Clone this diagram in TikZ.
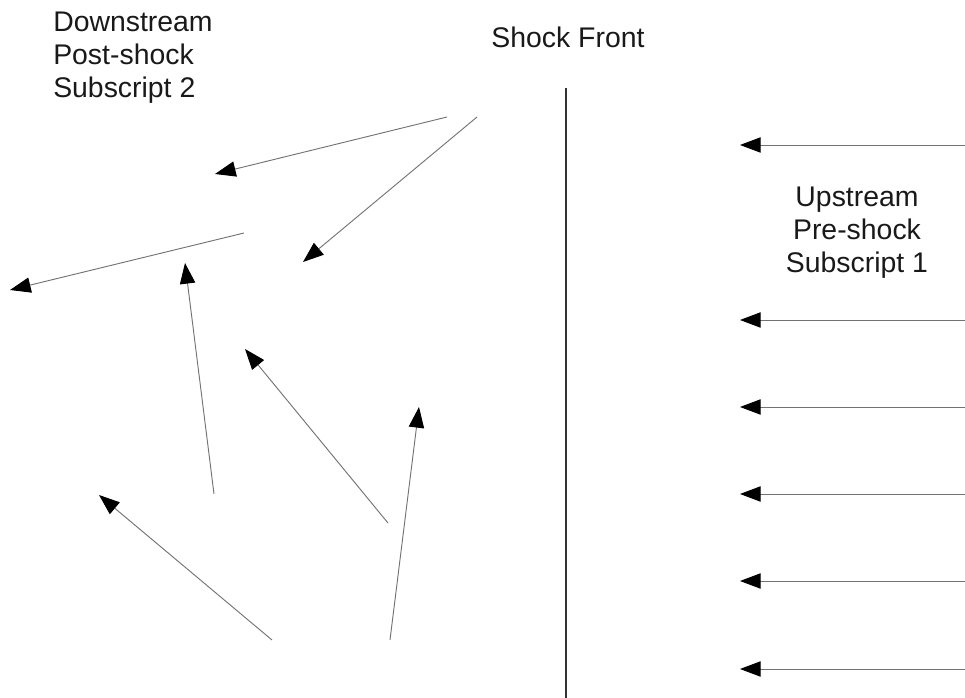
\documentclass[tikz,border=0pt]{standalone}
\usepackage{fontspec}
\setmainfont{Liberation Sans}
\usetikzlibrary{arrows.meta}
\tikzset{
  flow/.style={draw=black!55, line width=0.7pt, -{Triangle[length=15.5pt,width=11.5pt,color=black]}},
  front/.style={draw=black!80, line width=1.6pt},
  lbl/.style={inner sep=0pt, font=\fontsize{21.3}{24.5}\selectfont, text=black!90}
}
\begin{document}
\begin{tikzpicture}[x=0.75pt,y=-0.75pt]
\useasboundingbox (0,0) rectangle (965,698);
% labels
\node[lbl, anchor=north west, align=left] (down) at (53,12) {Downstream\\Post-shock\\Subscript 2};
\node[lbl, anchor=north] (front) at (568,27) {Shock Front};
\node[lbl, anchor=north, align=center] (up) at (857,187) {Upstream\\Pre-shock\\Subscript 1};
% shock front line
\coordinate (ftop) at (566,88);
\coordinate (fbot) at (566,698);
\draw[front] (ftop) -- (fbot);
% downstream arrows
\coordinate (a1s) at (447,117); \coordinate (a1e) at (215,174);
\coordinate (a2s) at (477,117); \coordinate (a2e) at (303,262);
\coordinate (a3s) at (244,233); \coordinate (a3e) at (10,290);
\coordinate (a4s) at (214,494); \coordinate (a4e) at (185,263);
\coordinate (a5s) at (388,523); \coordinate (a5e) at (245,349);
\coordinate (a6s) at (390,640); \coordinate (a6e) at (419,407);
\coordinate (a7s) at (272,640); \coordinate (a7e) at (99,495);
\foreach \i in {1,...,7} \draw[flow] (a\i s) -- (a\i e);
% upstream arrows
\foreach \y [count=\k] in {145,320,407,494,581,669} {
  \coordinate (u\k s) at (965,\y);
  \coordinate (u\k e) at (740,\y);
  \draw[flow] (u\k s) -- (u\k e);
}
\end{tikzpicture}
\end{document}
